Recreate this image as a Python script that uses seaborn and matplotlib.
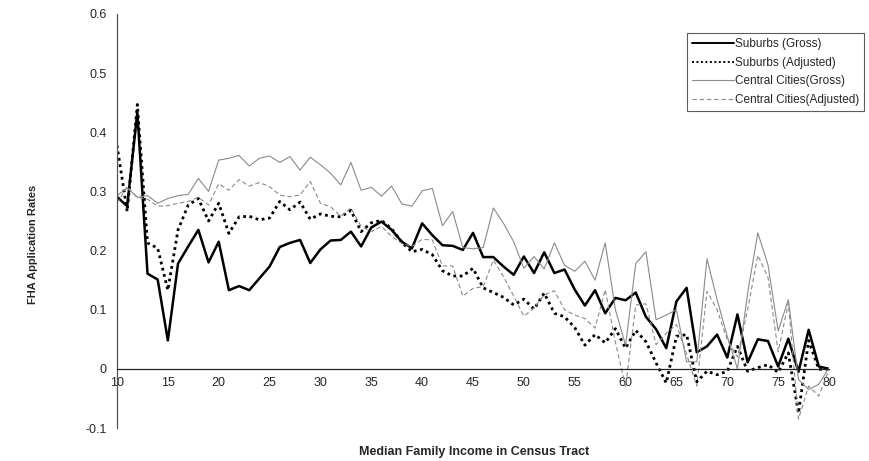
import numpy as np
import pandas as pd
import matplotlib
matplotlib.use("Agg")
import matplotlib.pyplot as plt
from matplotlib.ticker import MultipleLocator
import seaborn as sns

sns.set_style("white")
plt.rcParams["font.family"] = ["Liberation Sans", "DejaVu Sans"]

income = list(range(10, 81))

suburbs_gross = [
    0.291, 0.275, 0.434, 0.161, 0.151, 0.048, 0.178, 0.207, 0.235, 0.180,
    0.215, 0.133, 0.140, 0.133, 0.153, 0.173, 0.206, 0.213, 0.218, 0.179,
    0.202, 0.217, 0.218, 0.232, 0.207, 0.239, 0.249, 0.235, 0.215, 0.204,
    0.246, 0.226, 0.209, 0.208, 0.201, 0.230, 0.189, 0.189, 0.173, 0.159,
    0.190, 0.162, 0.197, 0.162, 0.168, 0.134, 0.107, 0.133, 0.094, 0.120,
    0.116, 0.129, 0.088, 0.067, 0.035, 0.114, 0.137, 0.028, 0.038, 0.058,
    0.019, 0.092, 0.011, 0.050, 0.047, 0.004, 0.051, -0.005, 0.066, 0.004,
    0.000,
]
suburbs_adjusted = [
    0.378, 0.266, 0.447, 0.213, 0.204, 0.133, 0.235, 0.277, 0.288, 0.250,
    0.280, 0.229, 0.257, 0.258, 0.252, 0.255, 0.283, 0.269, 0.282, 0.253,
    0.262, 0.258, 0.257, 0.268, 0.232, 0.247, 0.251, 0.237, 0.214, 0.198,
    0.202, 0.193, 0.166, 0.157, 0.157, 0.170, 0.137, 0.129, 0.121, 0.108,
    0.118, 0.101, 0.128, 0.094, 0.088, 0.070, 0.040, 0.058, 0.044, 0.068,
    0.035, 0.065, 0.046, 0.010, -0.024, 0.055, 0.058, -0.022, -0.004, -0.010,
    -0.004, 0.038, -0.004, 0.002, 0.007, -0.006, 0.027, -0.075, 0.048, -0.001,
    0.000,
]
central_gross = [
    0.293, 0.306, 0.290, 0.293, 0.280, 0.288, 0.293, 0.295, 0.322, 0.300,
    0.353, 0.356, 0.361, 0.343, 0.356, 0.360, 0.349, 0.359, 0.336, 0.358,
    0.345, 0.331, 0.311, 0.349, 0.302, 0.307, 0.292, 0.309, 0.279, 0.275,
    0.301, 0.305, 0.242, 0.266, 0.205, 0.203, 0.205, 0.272, 0.246, 0.215,
    0.170, 0.190, 0.169, 0.213, 0.175, 0.165, 0.182, 0.150, 0.213, 0.100,
    0.040, 0.178, 0.198, 0.083, 0.091, 0.100, 0.012, 0.012, 0.186, 0.117,
    0.055, 0.000, 0.128, 0.230, 0.176, 0.064, 0.117, -0.018, -0.035, -0.026,
    0.002,
]
central_adjusted = [
    0.280, 0.308, 0.290, 0.287, 0.275, 0.276, 0.280, 0.283, 0.290, 0.277,
    0.313, 0.302, 0.320, 0.309, 0.315, 0.308, 0.294, 0.291, 0.294, 0.317,
    0.280, 0.274, 0.258, 0.272, 0.241, 0.232, 0.241, 0.224, 0.212, 0.207,
    0.219, 0.218, 0.174, 0.174, 0.123, 0.136, 0.139, 0.184, 0.156, 0.123,
    0.089, 0.103, 0.125, 0.132, 0.100, 0.091, 0.085, 0.069, 0.134, 0.045,
    -0.030, 0.108, 0.110, 0.041, 0.060, 0.075, 0.025, -0.029, 0.131, 0.100,
    0.049, 0.020, 0.100, 0.192, 0.155, 0.029, 0.111, -0.085, -0.029, -0.046,
    -0.001,
]

series_names = ["Suburbs (Gross)", "Suburbs (Adjusted)",
                "Central Cities(Gross)", "Central Cities(Adjusted)"]
series_values = [suburbs_gross, suburbs_adjusted, central_gross, central_adjusted]

ytick_values = [-0.1, 0.0, 0.1, 0.2, 0.3, 0.4, 0.5, 0.6]
ytick_labels = ["-0.1", "0", "0.1", "0.2", "0.3", "0.4", "0.5", "0.6"]
xtick_values = list(range(10, 81, 5))

styles = [
    dict(color="black", linestyle="-", linewidth=1.8),
    dict(color="black", linestyle=(0, (1, 1.3)), linewidth=2.0),
    dict(color="#8a8a8a", linestyle="-", linewidth=0.8),
    dict(color="#8a8a8a", linestyle=(0, (4, 2.5)), linewidth=0.8),
]

fig = plt.figure(figsize=(8.69, 4.61), dpi=100)
ax = fig.add_axes([117 / 869, 1 - 428 / 461, (829 - 117) / 869, (428 - 14) / 461])

for name, vals, st in zip(series_names, series_values, styles):
    df = pd.DataFrame({"income": income, "rate": vals})
    sns.lineplot(data=df, x="income", y="rate", ax=ax, label=name, **st)

ax.set_xlim(10, 80)
ax.set_ylim(-0.1, 0.6)

for s in ["top", "right"]:
    ax.spines[s].set_visible(False)
ax.spines["left"].set_color("#555555")
ax.spines["left"].set_linewidth(0.9)
ax.spines["bottom"].set_position(("data", 0))
ax.spines["bottom"].set_color("#222222")
ax.spines["bottom"].set_linewidth(0.9)

ax.set_xticks(xtick_values)
ax.set_xticklabels([str(v) for v in xtick_values])
ax.xaxis.set_minor_locator(MultipleLocator(1))
ax.tick_params(axis="x", which="both", direction="inout", length=7, width=0.8,
               color="#222222", labelsize=9, pad=2.5)
ax.set_yticks(ytick_values)
ax.set_yticklabels(ytick_labels)
ax.tick_params(axis="y", which="major", direction="out", length=3.5, width=0.8,
               color="#555555", labelsize=9, pad=4)

ax.set_xlabel("")
ax.set_ylabel("")
fig.text(474 / 869, 1 - 452 / 461, "Median Family Income in Census Tract",
         ha="center", va="center", fontsize=9, fontweight="bold")
fig.text(33 / 869, 1 - 244 / 461, "FHA Application Rates", rotation=90,
         ha="center", va="center", fontsize=8, fontweight="bold")

leg = ax.legend(loc="upper left", bbox_to_anchor=(687 / 869, 1 - 33 / 461),
                bbox_transform=fig.transFigure, frameon=True, fancybox=False,
                fontsize=8.5, handlelength=3.5, handletextpad=0.1,
                labelspacing=0.55, borderpad=0.45, borderaxespad=0)
leg.get_frame().set_edgecolor("#333333")
leg.get_frame().set_linewidth(0.8)
for h in leg.get_lines():
    h.set_linewidth(min(h.get_linewidth(), 1.4))

fig.savefig("out.png", dpi=100)
